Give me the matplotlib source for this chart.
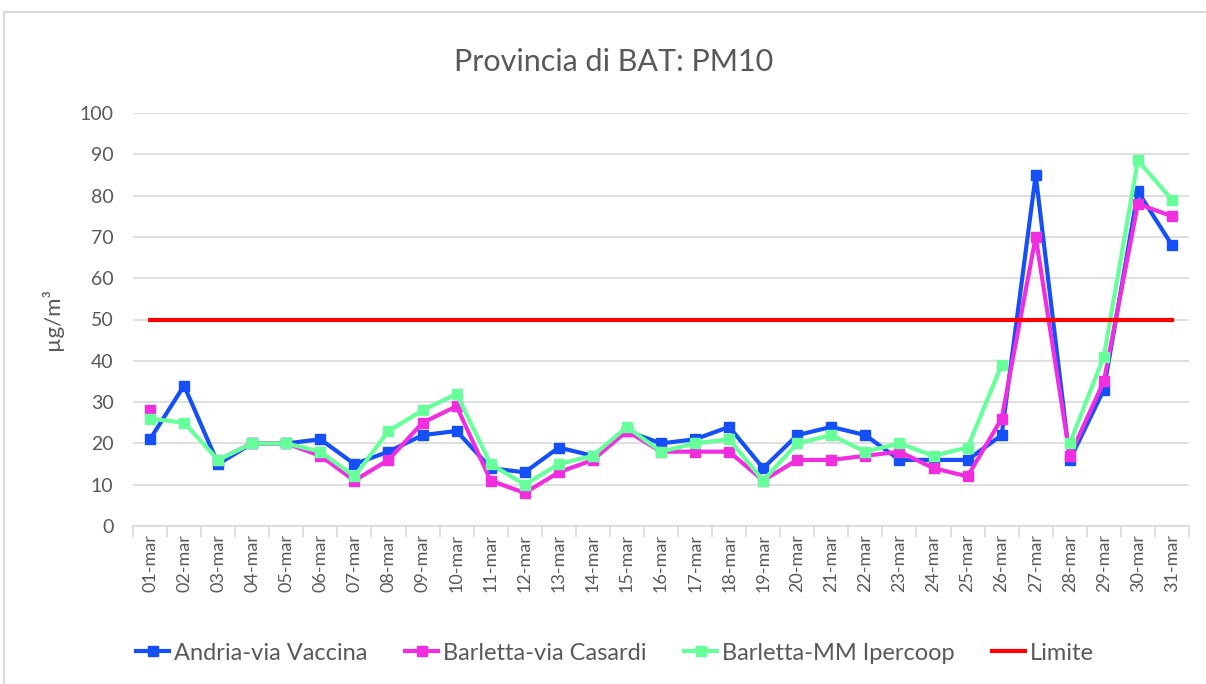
import numpy as np
import matplotlib
matplotlib.use("Agg")
import matplotlib.pyplot as plt
from matplotlib.patches import Rectangle
from matplotlib.lines import Line2D

nan = np.nan

days = ["%02d-mar" % d for d in range(1, 32)]

# PM10 daily values (µg/m³)
andria = [21, 34, 15, 20, 20, 21, 15, 18, 22, 23, 14, 13, 19, 17, 23, 20,
          21, 24, 14, 22, 24, 22, 16, 16, 16, 22, 85, 16, 33, 81, 68]
casardi = [28, nan, 16, 20, 20, 17, 11, 16, 25, 29, 11, 8, 13, 16, 23, 18,
           18, 18, 11, 16, 16, 17, 18, 14, 12, 26, 70, 17, 35, 78, 75]
ipercoop = [26, 25, 16, 20, 20, 18, 12, 23, 28, 32, 15, 10, 15, 17, 24, 18,
            20, 21, 11, 20, 22, 18, 20, 17, 19, 39, nan, 20, 41, 88.5, 79]
limite = [50] * 31

series_names = ["Andria-via Vaccina", "Barletta-via Casardi", "Barletta-MM Ipercoop", "Limite"]
colors = ["#1450F5", "#F02EE0", "#66FF99", "#FF0000"]

plt.rcParams["font.family"] = ["Lato", "DejaVu Sans"]
text_col = "#595959"
grid_col = "#D9D9D9"

fig = plt.figure(figsize=(12.06, 6.84), dpi=100)
ax = fig.add_axes([133 / 1206, 1 - 526 / 684, (1189 - 133) / 1206, (526 - 113) / 684])

# outer chart border
fig.patches.append(Rectangle((4 / 1206, -0.01), 1.0, 1 - 12 / 684 + 0.01,
                             transform=fig.transFigure, fill=False,
                             edgecolor=grid_col, linewidth=1.5))

x = np.arange(len(days))
for vals, name, c in zip([andria, casardi, ipercoop], series_names[:3], colors[:3]):
    ax.plot(x, vals, color=c, linewidth=3, marker="s", markersize=7,
            label=name, zorder=3)
ax.plot(x, limite, color=colors[3], linewidth=3, label=series_names[3], zorder=4)

ax.set_xlim(-0.5, len(days) - 0.5)
ax.set_ylim(0, 100)
ax.set_yticks(np.arange(0, 101, 10))
ax.yaxis.grid(True, color=grid_col, linewidth=1.2)
ax.set_axisbelow(True)
ax.tick_params(axis="y", length=0, labelsize=14, labelcolor=text_col, pad=14)

ax.set_xticks(x)
ax.set_xticklabels(days, rotation=90)
ax.tick_params(axis="x", which="major", length=0, labelsize=13, labelcolor=text_col, pad=6)
ax.set_xticks(np.arange(-0.5, len(days)), minor=True)
ax.tick_params(axis="x", which="minor", length=8, color=grid_col, width=1.2)

for side in ["top", "right", "left"]:
    ax.spines[side].set_visible(False)
ax.spines["bottom"].set_color(grid_col)
ax.spines["bottom"].set_linewidth(1.2)

ax.set_ylabel("µg/m³", fontsize=16, color=text_col, labelpad=12)
fig.text(0.509, 1 - 62 / 684, "Provincia di BAT: PM10", ha="center", va="center",
         fontsize=22, color=text_col)

handles = [Line2D([], [], color=c, linewidth=3, marker="s", markersize=7) for c in colors[:3]]
handles.append(Line2D([], [], color=colors[3], linewidth=3))
fig.legend(handles, series_names, loc="center", bbox_to_anchor=(0.51, 1 - 653 / 684),
           ncol=4, frameon=False, fontsize=17, labelcolor=text_col,
           handlelength=1.4, handletextpad=0.2, columnspacing=1.6)

fig.savefig("out.png", dpi=100)
